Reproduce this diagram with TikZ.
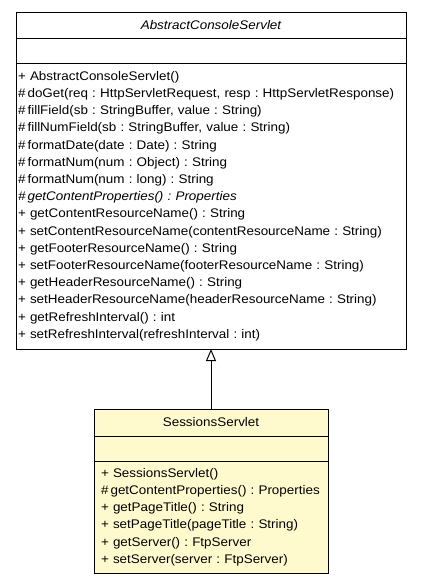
\documentclass[tikz,border=0pt]{standalone}
\usepackage{fontspec}
\setmainfont[FakeStretch=1.075]{Liberation Sans}
\usetikzlibrary{positioning,arrows.meta}
\definecolor{classfill}{HTML}{FFFACD}
\hyphenpenalty=10000
\tikzset{
  classpart/.style={draw=black,line width=1pt,inner sep=0pt,outer sep=0pt,
    font=\fontsize{12.5}{17.2}\selectfont\frenchspacing},
  opspart/.style={classpart,align=left,inner xsep=#1},
  extends/.style={-{Triangle[open,length=12pt,width=10pt]},line width=1pt}
}
\begin{document}
\begin{tikzpicture}[x={(1pt,0)},y={(0,-1pt)}]
	\useasboundingbox (0,0) rectangle (421,584);
	% abstract base class
	\node[classpart,minimum width=390pt,minimum height=26pt] (absname) at (211,25) {\itshape AbstractConsoleServlet};
	\node[classpart,minimum width=390pt,minimum height=25pt,below=0pt of absname] (absattr) {};
	\node[opspart=2pt,text width=386pt,minimum height=286pt,below=0pt of absattr] (absops) {
		+ AbstractConsoleServlet()\\
		\#\,doGet(req : HttpServletRequest, resp : HttpServletResponse)\\
		\#\,fillField(sb : StringBuffer, value : String)\\
		\#\,fillNumField(sb : StringBuffer, value : String)\\
		\#\,formatDate(date : Date) : String\\
		\#\,formatNum(num : Object) : String\\
		\#\,formatNum(num : long) : String\\
		\textit{\#\,getContentProperties() : Properties}\\
		+ getContentResourceName() : String\\
		+ setContentResourceName(contentResourceName : String)\\
		+ getFooterResourceName() : String\\
		+ setFooterResourceName(footerResourceName : String)\\
		+ getHeaderResourceName() : String\\
		+ setHeaderResourceName(headerResourceName : String)\\
		+ getRefreshInterval() : int\\
		+ setRefreshInterval(refreshInterval : int)
	};
	% subclass
	\node[classpart,fill=classfill,minimum width=234pt,minimum height=27pt,below=60pt of absops] (sessname) {SessionsServlet};
	\node[classpart,fill=classfill,minimum width=234pt,minimum height=25pt,below=0pt of sessname] (sessattr) {};
	\node[opspart=7pt,fill=classfill,text width=220pt,minimum height=112pt,below=0pt of sessattr] (sessops) {
		+ SessionsServlet()\\
		\#\,getContentProperties() : Properties\\
		+ getPageTitle() : String\\
		+ setPageTitle(pageTitle : String)\\
		+ getServer() : FtpServer\\
		+ setServer(server : FtpServer)
	};
	\draw[extends] (sessname.north) -- (absops.south);
\end{tikzpicture}
\end{document}
